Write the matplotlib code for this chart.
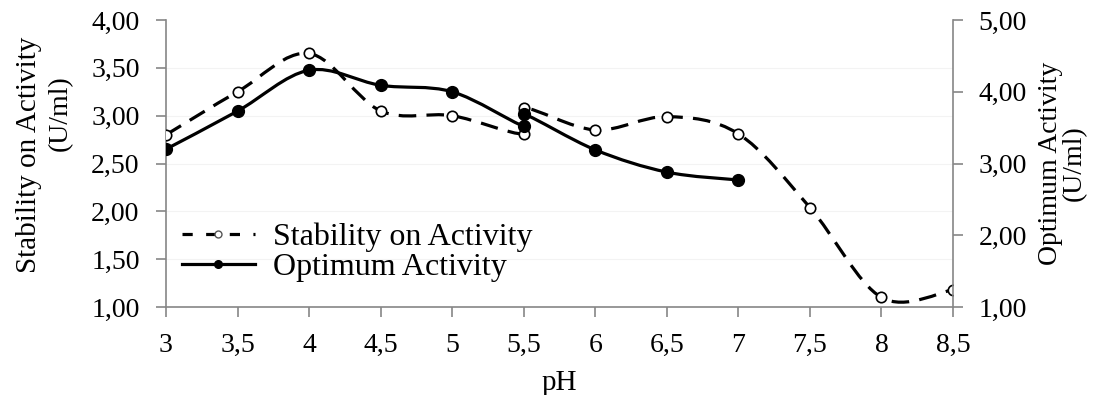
import numpy as np
import matplotlib.pyplot as plt
from matplotlib.path import Path
from matplotlib.patches import PathPatch
from matplotlib.lines import Line2D

plt.rcParams['font.family'] = ['Liberation Serif', 'DejaVu Serif']

ph_stab = [3, 3.5, 4, 4.5, 5, 5.5, 5.5, 6, 6.5, 7, 7.5, 8, 8.5]
stability = [2.80, 3.25, 3.65, 3.05, 3.00, 2.81, 3.08, 2.85, 2.99, 2.81, 2.04, 1.10, 1.18]
ph_opt = [3, 3.5, 4, 4.5, 5, 5.5, 5.5, 6, 6.5, 7]
optimum = [3.20, 3.73, 4.30, 4.09, 4.00, 3.52, 3.69, 3.19, 2.88, 2.77]
xticks = [3, 3.5, 4, 4.5, 5, 5.5, 6, 6.5, 7, 7.5, 8, 8.5]
left_ticks = [1.0, 1.5, 2.0, 2.5, 3.0, 3.5, 4.0]
right_ticks = [1, 2, 3, 4, 5]


def smooth_path(x, y):
    # excel-like smoothed line: catmull-rom -> cubic bezier segments
    p = np.column_stack([x, y]).astype(float)
    n = len(p)
    verts = [p[0]]
    codes = [Path.MOVETO]
    for i in range(n - 1):
        p0 = p[i - 1] if i > 0 else p[i]
        p3 = p[i + 2] if i + 2 < n else p[i + 1]
        c1 = p[i] + (p[i + 1] - p0) / 6
        c2 = p[i + 1] - (p3 - p[i]) / 6
        verts += [c1, c2, p[i + 1]]
        codes += [Path.CURVE4] * 3
    return Path(verts, codes)


def comma(v, nd):
    return ('{:.%df}' % nd).format(v).replace('.', ',')


W, H = 1101, 395
fig = plt.figure(figsize=(W / 100, H / 100), dpi=100)
ax = fig.add_axes([166/W, 1-307/H, (953-166)/W, (307-20)/H])
ax2 = ax.twinx()

ax.set_xlim(3, 8.5)
ax.set_ylim(1, 4)
ax2.set_ylim(1, 5)

spine_c = '#868686'
for a in (ax, ax2):
    for s in a.spines.values():
        s.set_color(spine_c)
        s.set_linewidth(1.2)
    a.spines['top'].set_visible(False)
ax.spines['right'].set_visible(False)
ax2.spines['left'].set_visible(False)
ax2.spines['bottom'].set_visible(False)

fs = 20
ax.set_xticks(xticks)
ax.set_xticklabels([comma(v, 1) if v % 1 else str(int(v)) for v in xticks])
ax.set_yticks(left_ticks)
ax.set_yticklabels([comma(v, 2) for v in left_ticks])
ax2.set_yticks(right_ticks)
ax2.set_yticklabels([comma(v, 2) for v in right_ticks])
ax.tick_params(axis='both', labelsize=fs, color=spine_c, length=7, width=1.2, pad=12)
ax2.tick_params(axis='y', labelsize=fs, color=spine_c, length=7, width=1.2, pad=11.5)
for y in left_ticks[1:-1]:
    ax.axhline(y, color='#f3f3f3', lw=0.8, zorder=0)

ax.add_patch(PathPatch(smooth_path(ph_stab, stability), fill=False, ec='black',
                       lw=2.3, linestyle=(0, (5.5, 3.2)), zorder=3))
ax.plot(ph_stab, stability, 'o', ms=7.5, mfc='white', mec='black', mew=1.2, zorder=4)

ax2.add_patch(PathPatch(smooth_path(ph_opt, optimum), fill=False, ec='black',
                        lw=2.3, zorder=3))
ax2.plot(ph_opt, optimum, 'o', ms=8.5, mfc='black', mec='black', zorder=4)

ax.set_xlabel('pH', fontsize=21, labelpad=8)
# left axis title: the two lines sit at different heights in the original
fig.text(29/W, 1-155/H, 'Stability on Activity', fontsize=21, rotation=90,
         ha='center', va='center')
fig.text(60/W, 1-113/H, '(U/ml)', fontsize=20, rotation=90, ha='center', va='center')
ax2.set_ylabel('Optimum Activity\n(U/ml)', fontsize=20, linespacing=0.95, labelpad=8)

handles = [Line2D([], [], color='black', lw=2.3, ls=(0, (3.2, 4.2)), marker='o', ms=5,
                  mfc='white', mec='#555555'),
           Line2D([], [], color='black', lw=2.3, marker='o', ms=5.5)]
ax.legend(handles, ['Stability on Activity', 'Optimum Activity'], loc='upper left',
          bbox_to_anchor=(0.02, 0.293), borderaxespad=0, borderpad=0, frameon=False,
          fontsize=23, handlelength=2.3, labelspacing=0.02, handletextpad=0.55)

fig.savefig('out.png', dpi=100)
